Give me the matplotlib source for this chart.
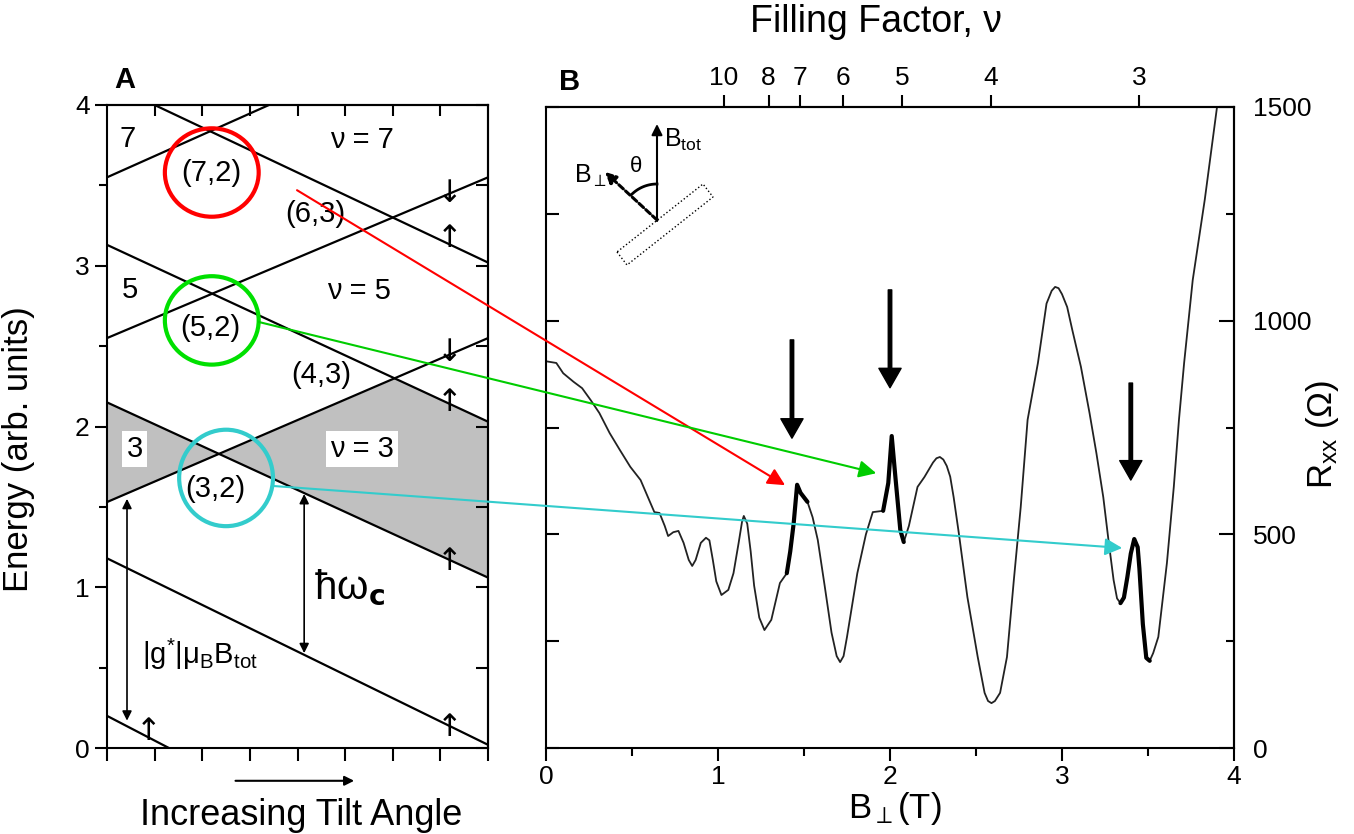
# Tilted-field Landau level crossing (A) and Rxx vs perpendicular field (B)

import numpy as np
import matplotlib.pyplot as plt
from matplotlib.patches import Ellipse, ConnectionPatch, Polygon

plt.rcParams['font.family'] = ['Liberation Sans', 'DejaVu Sans']
plt.rcParams['mathtext.fontset'] = 'custom'
plt.rcParams['mathtext.rm'] = 'Liberation Sans'
plt.rcParams['mathtext.it'] = 'Liberation Sans:italic'
plt.rcParams['mathtext.default'] = 'regular'

# ---- panel A data: straight Landau levels (x_start, E_start, x_end, E_end)
up_levels = [(0, 1.53, 8, 2.55), (0, 2.55, 8, 3.55), (0, 3.55, 3.4, 4.0)]
down_levels = [(0, 0.20, 1.3, 0.0), (0, 1.18, 8, 0.02), (0, 2.15, 8, 1.06),
               (0, 3.13, 8, 2.03), (1.0, 4.0, 8, 3.02)]

gap_text = ['7', 'ν = 7', '(7,2)', '(6,3)', '5', 'ν = 5', '(5,2)', '(4,3)', '(3,2)']
gap_x = [0.44, 5.35, 2.2, 4.37, 0.48, 5.28, 2.16, 4.5, 2.27]
gap_E = [3.79, 3.78, 3.58, 3.32, 2.85, 2.84, 2.61, 2.32, 1.61]

boxed_text = ['3', 'ν = 3']
boxed_x = [0.58, 5.35]
boxed_E = [1.86, 1.86]

spin_symbol = ['↓', '↑', '↓', '↑', '↑', '↑', '↑']
spin_x = [7.2, 7.2, 7.2, 7.2, 7.2, 7.2, 0.87]
spin_E = [3.45, 3.17, 2.46, 2.15, 1.16, 0.13, 0.10]

# ---- panel B data: Rxx (ohm) vs B_perp (T)
b_perp = [0.00, 0.06, 0.10, 0.16, 0.21, 0.26, 0.31, 0.37, 0.43, 0.49, 0.55, 0.60,
          0.63, 0.66, 0.69, 0.71, 0.74, 0.77, 0.80, 0.83, 0.85, 0.87, 0.90, 0.93,
          0.95, 0.97, 0.99, 1.02, 1.06, 1.09, 1.12, 1.14, 1.15, 1.17, 1.19, 1.21,
          1.24, 1.27, 1.31, 1.36, 1.40, 1.42, 1.44, 1.46, 1.48, 1.52, 1.55, 1.58,
          1.62, 1.66, 1.69, 1.71, 1.73, 1.75, 1.81, 1.86, 1.90, 1.96, 1.99, 2.01,
          2.03, 2.06, 2.08, 2.11, 2.16, 2.20, 2.25, 2.27, 2.29, 2.31, 2.33, 2.35,
          2.37, 2.40, 2.45, 2.51, 2.55, 2.57, 2.59, 2.61, 2.64, 2.68, 2.72, 2.76,
          2.80, 2.86, 2.91, 2.94, 2.96, 2.98, 3.00, 3.03, 3.06, 3.11, 3.16, 3.20,
          3.24, 3.27, 3.30, 3.32, 3.34, 3.36, 3.38, 3.40, 3.42, 3.44, 3.45, 3.47,
          3.49, 3.51, 3.53, 3.56, 3.61, 3.65, 3.68, 3.71, 3.76, 3.83, 3.90, 3.93]
r_xx = [905, 901, 877, 857, 842, 814, 784, 737, 697, 658, 627, 580,
        552, 550, 520, 496, 505, 508, 480, 440, 426, 440, 480, 492,
        486, 440, 390, 358, 370, 409, 480, 530, 543, 525, 460, 380,
        305, 276, 300, 386, 409, 460, 526, 616, 597, 576, 540, 487,
        380, 270, 215, 201, 215, 260, 409, 500, 552, 555, 620, 730,
        640, 510, 482, 520, 611, 634, 668, 678, 681, 675, 660, 635,
        587, 503, 353, 213, 129, 110, 105, 110, 129, 213, 393, 564,
        768, 901, 1040, 1070, 1079, 1076, 1062, 1032, 978, 892, 784, 690,
        587, 487, 393, 350, 339, 352, 400, 455, 489, 470, 420, 290,
        211, 204, 222, 260, 433, 611, 768, 901, 1095, 1283, 1496, 1570]

bold_ranges = [(1.40, 1.52), (1.93, 2.10), (3.33, 3.51)]

nu_ticks = [10, 8, 7, 6, 5, 4, 3]
b_nu = 10.35  # B_perp * nu

# ---- figure
fig = plt.figure(figsize=(13.54, 8.34), dpi=100)
axA = fig.add_axes([107/1354, 1-748/834, 381/1354, 643/834])
axB = fig.add_axes([546/1354, 1-748/834, 688/1354, 641/834])

# ===== panel A
xg = np.linspace(0, 8, 801)
def level(seg):
    return np.interp(xg, [seg[0], seg[2]], [seg[1], seg[3]])
u1, d3, d4 = level(up_levels[0]), level(down_levels[2]), level(down_levels[3])
axA.fill_between(xg, np.minimum(u1, d3), np.minimum(np.maximum(u1, d3), d4),
                 color='#c0c0c0', lw=0, zorder=0)
for seg in up_levels + down_levels:
    axA.plot([seg[0], seg[2]], [seg[1], seg[3]], color='k', lw=1.6)

for t, x, e in zip(gap_text, gap_x, gap_E):
    axA.text(x, e, t, fontsize=21, ha='center', va='center')
for t, x, e in zip(boxed_text, boxed_x, boxed_E):
    axA.text(x, e, t, fontsize=21, ha='center', va='center',
             bbox=dict(facecolor='white', edgecolor='none', pad=3))
for s, x, e in zip(spin_symbol, spin_x, spin_E):
    axA.text(x, e, s, fontsize=22, ha='center', va='center', family='DejaVu Sans')

arw = dict(arrowstyle='<|-|>', color='k', lw=1.2, mutation_scale=14, shrinkA=0, shrinkB=0)
axA.annotate('', xy=(0.42, 1.55), xytext=(0.42, 0.17), arrowprops=arw)
axA.annotate('', xy=(4.14, 1.58), xytext=(4.14, 0.59), arrowprops=arw)
axA.text(5.1, 1.0, r'$\hbar\omega_{\mathbf{c}}$', fontsize=29, ha='center', va='center')
axA.text(1.95, 0.58, r'$|g^{*}|\mu_{B}B_{tot}$', fontsize=21, ha='center', va='center')

for (cx, cy, h), col in zip([(2.2, 3.58, 0.55), (2.2, 2.66, 0.55), (2.5, 1.68, 0.6)],
                            ['#ff0000', '#00e000', '#33cccc']):
    axA.add_patch(Ellipse((cx, cy), 1.97, h, fill=False, edgecolor=col, lw=3, zorder=5))

axA.set_xlim(0, 8)
axA.set_ylim(0, 4)
axA.set_xticks(range(9))
axA.set_xticklabels([])
axA.set_yticks(range(5))
axA.set_yticks(np.arange(0.5, 4, 1), minor=True)
axA.tick_params(axis='both', which='both', direction='out', top=False, right=False,
                width=1.5, labelsize=19)
axA.tick_params(which='major', length=9)
axA.tick_params(which='minor', length=6)
topA = axA.secondary_xaxis('top')
topA.set_xticks(range(1, 8))
topA.set_xticklabels([])
topA.tick_params(direction='in', length=8, width=1.5)
rightA = axA.secondary_yaxis('right')
rightA.set_yticks(np.arange(0, 4.01, 0.5))
rightA.set_yticklabels([])
rightA.tick_params(direction='in', length=9, width=1.5)
for ax in (axA, topA, rightA):
    for sp in ax.spines.values():
        sp.set_linewidth(1.5)
axA.set_ylabel('Energy (arb. units)', fontsize=25)
axA.yaxis.set_label_coords(-0.19, 0.465)
axA.text(0.51, -0.105, 'Increasing Tilt Angle', fontsize=26, ha='center', va='center',
         transform=axA.transAxes)
axA.annotate('', xy=(0.656, -0.051), xytext=(0.33, -0.051), xycoords='axes fraction',
             arrowprops=dict(arrowstyle='-|>', color='k', lw=1.5, mutation_scale=14),
             annotation_clip=False)

# ===== panel B
b_arr = np.array(b_perp)
r_arr = np.array(r_xx)
axB.plot(b_arr, r_arr, color='#222222', lw=1.3)
for lo, hi in bold_ranges:
    m = (b_arr >= lo) & (b_arr <= hi)
    axB.plot(b_arr[m], r_arr[m], color='k', lw=3, solid_capstyle='round')

for bx, r0, r1 in [(1.43, 955, 725), (2.0, 1072, 843), (3.40, 854, 627)]:
    axB.annotate('', xy=(bx, r1), xytext=(bx, r0),
                 arrowprops=dict(facecolor='k', edgecolor='k', width=2.5,
                                 headwidth=16, headlength=14, shrink=0))

axB.set_xlim(0, 4)
axB.set_ylim(0, 1500)
axB.set_xticks(range(5))
axB.set_xticks(np.arange(0.5, 4, 1), minor=True)
axB.set_yticks(np.arange(0, 1501, 250))
axB.tick_params(axis='x', which='both', direction='out', top=False, width=1.5, labelsize=19)
axB.tick_params(axis='x', which='major', length=9)
axB.tick_params(axis='x', which='minor', length=6)
axB.tick_params(axis='y', direction='in', right=False, labelleft=False, length=9, width=1.5)
topB = axB.secondary_xaxis('top')
topB.set_xticks([b_nu / n for n in nu_ticks])
topB.set_xticklabels([str(n) for n in nu_ticks])
topB.tick_params(direction='out', length=9, width=1.5, labelsize=19)
rightB = axB.secondary_yaxis('right')
rightB.set_yticks([0, 500, 1000, 1500])
rightB.set_yticks([250, 750, 1250], minor=True)
rightB.tick_params(which='both', direction='in', width=1.5, labelsize=19, pad=14)
rightB.tick_params(which='major', length=11)
rightB.tick_params(which='minor', length=6)
for ax in (axB, topB, rightB):
    for sp in ax.spines.values():
        sp.set_linewidth(1.5)
axB.text(0.507, -0.094, r'B$_{\perp}$(T)', fontsize=25, ha='center', va='center',
         transform=axB.transAxes)
axB.text(1.129, 0.49, r'R$_{xx}$ ($\Omega$)', fontsize=25, ha='center', va='center',
         rotation=90, transform=axB.transAxes)

# inset sketch of the tilted sample (pixel units)
axI = fig.add_axes([575/1354, 1-270/834, 150/1354, 155/834])
axI.set_xlim(575, 725)
axI.set_ylim(270, 115)
axI.axis('off')
axI.annotate('', xy=(657, 124), xytext=(657, 221),
             arrowprops=dict(arrowstyle='-|>', color='k', lw=1.5, mutation_scale=16, shrinkA=0, shrinkB=0))
axI.annotate('', xy=(605, 172), xytext=(657, 220),
             arrowprops=dict(arrowstyle='-|>', color='k', lw=2.2, ls=(0, (2, 1)),
                             mutation_scale=16, shrinkA=0, shrinkB=0))
ang = np.radians(np.linspace(90, 135, 30))
axI.plot(657 + 36*np.cos(ang), 220 - 36*np.sin(ang), color='k', lw=2)
axI.add_patch(Polygon([(617, 252), (627, 265), (713, 197), (703, 184)], closed=True,
                      fill=False, edgecolor='k', lw=1, ls=':'))
axI.text(664, 140, r'B$_{tot}$', fontsize=18, ha='left', va='center')
axI.text(574, 176, r'B$_{\perp}$', fontsize=18, ha='left', va='center')
axI.text(636, 166, 'θ', fontsize=16, ha='center', va='center')

# connectors from crossings (A) to peaks (B)
for (xa, ea), (xb, rb), col in [((3.99, 3.47), (1.39, 615), '#ff0000'),
                                ((3.19, 2.65), (1.92, 643), '#00cc00'),
                                ((3.49, 1.63), (3.35, 468), '#33cccc')]:
    con = ConnectionPatch(xyA=(xa, ea), coordsA=axA.transData, xyB=(xb, rb),
                          coordsB=axB.transData, arrowstyle='-|>', color=col,
                          lw=1.5, mutation_scale=26, shrinkA=0, shrinkB=0)
    con.set_zorder(10)
    fig.add_artist(con)

fig.text(125/1354, 1-80/834, 'A', fontsize=21, fontweight='bold', ha='center', va='center')
fig.text(570/1354, 1-82/834, 'B', fontsize=21, fontweight='bold', ha='center', va='center')
fig.text(876/1354, 1-22/834, 'Filling Factor, ν', fontsize=27, ha='center', va='center')

fig.savefig('out.png', dpi=100)
